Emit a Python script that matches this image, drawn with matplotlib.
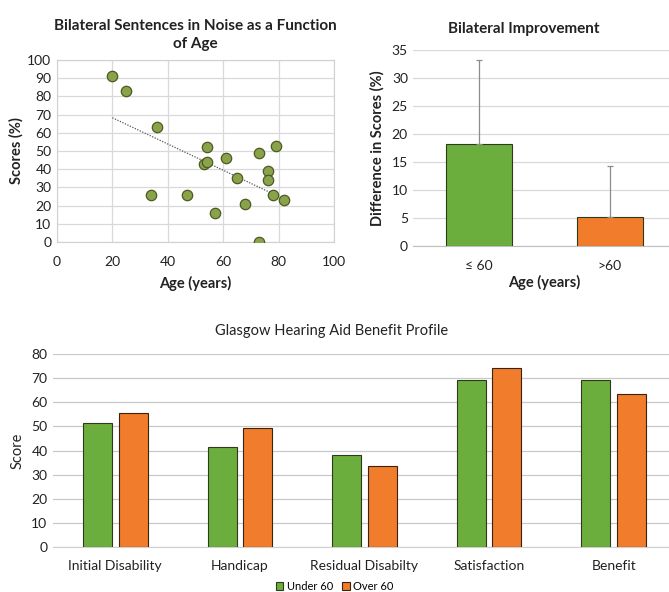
#
# Bilateral hearing results: scatter, improvement bars, GHABP profile
#
import matplotlib
matplotlib.use('Agg')
import matplotlib.pyplot as plt
from matplotlib.patches import Patch
import numpy as np

plt.rcParams['font.family'] = ['Lato', 'DejaVu Sans']

# Scatter data (age vs bilateral score)
ages = [20, 25, 36, 34, 47, 53, 54, 54, 57, 61, 65, 68, 73, 73, 76, 76, 78, 79, 82]
scores = [91, 83, 63, 26, 26, 43, 44, 52, 16, 46, 35, 21, 49, 0, 39, 34, 26, 53, 23]
trend_end = 78  # where the dotted trend line stops showing

# Bilateral improvement by age group
groups = ['\u2264 60', '>60']
improvement = [18.2, 5.1]
improvement_sd = [15.0, 9.1]

# Glasgow profile
ghabp_cats = ['Initial Disability', 'Handicap', 'Residual Disabilty', 'Satisfaction', 'Benefit']
under60 = [51.5, 41.5, 38.2, 69.4, 69.4]
over60 = [55.4, 49.2, 33.6, 74.1, 63.3]

GREEN = '#6cae3e'
ORANGE = '#f07c2c'
GRID = '#c8c8c8'
TXT = '#222222'

fig = plt.figure(figsize=(6.69, 5.92), dpi=100)

# --- scatter ---
ax1 = fig.add_axes([0.0852, 0.5912, 0.4141, 0.3074])
ax1.scatter(ages, scores, s=56, color='#8aa34a', edgecolors='#4b5a22', linewidths=0.9, zorder=3)
k, b = np.polyfit(ages, scores, 1)
tx = np.array([min(ages), trend_end])
ax1.plot(tx, k * tx + b, linestyle=(0, (1, 1.2)), color='#555555', linewidth=0.9, zorder=2)
ax1.set_xlim(0, 100)
ax1.set_ylim(0, 100)
ax1.set_xticks(range(0, 101, 20))
ax1.set_yticks(range(0, 101, 10))
ax1.grid(True, color='#d9d9d9', linewidth=0.9)
ax1.set_axisbelow(True)
for s in ax1.spines.values():
    s.set_color('#d0d0d0')
ax1.tick_params(length=0, labelsize=10, colors=TXT, pad=4)
ax1.tick_params(axis='x', pad=10)
ax1.set_xlabel('Age (years)', fontsize=10.5, fontweight='bold', color=TXT, labelpad=6)
ax1.set_ylabel('Scores (%)', fontsize=10.5, fontweight='bold', color=TXT, labelpad=3)
ax1.set_title('Bilateral Sentences in Noise as a Function\nof Age', fontsize=11,
              fontweight='bold', color=TXT, pad=9, linespacing=1.3)

# --- improvement bars ---
ax2 = fig.add_axes([0.618, 0.5845, 0.3916, 0.3311])
xpos = np.arange(len(groups))
ax2.bar(xpos, improvement, width=0.5, color=[GREEN, ORANGE], edgecolor='#2f3a1c', linewidth=0.8, zorder=3)
ax2.errorbar(xpos, improvement, yerr=[[0, 0], improvement_sd], fmt='none', ecolor='#8c8c8c',
             elinewidth=0.9, capsize=2, capthick=0.9, zorder=4)
ax2.set_xlim(-0.5, 1.5)
ax2.set_ylim(0, 35)
ax2.set_yticks(range(0, 36, 5))
ax2.set_xticks(xpos)
ax2.set_xticklabels(groups)
ax2.grid(axis='y', color='#d9d9d9', linewidth=0.9)
ax2.set_axisbelow(True)
for side in ['top', 'right', 'left']:
    ax2.spines[side].set_visible(False)
ax2.spines['bottom'].set_color('#bfbfbf')
ax2.tick_params(length=0, labelsize=10, colors=TXT, pad=4)
ax2.tick_params(axis='x', pad=10)
ax2.set_xlabel('Age (years)', fontsize=10.5, fontweight='bold', color=TXT, labelpad=2)
ax2.set_ylabel('Difference in Scores (%)', fontsize=10.5, fontweight='bold', color=TXT, labelpad=5)
ax2.set_title('Bilateral Improvement', fontsize=11, fontweight='bold', color=TXT, pad=12,
              x=0.42)

# --- Glasgow profile ---
ax3 = fig.add_axes([0.0792, 0.076, 0.9312, 0.326])
gx = np.arange(len(ghabp_cats))
w = 0.233
off = 0.143
ax3.bar(gx - off, under60, width=w, color=GREEN, edgecolor='#2f3a1c', linewidth=0.8, zorder=3, label='Under 60')
ax3.bar(gx + off, over60, width=w, color=ORANGE, edgecolor='#3a2410', linewidth=0.8, zorder=3, label='Over 60')
ax3.set_xlim(-0.5, len(ghabp_cats) - 0.5)
ax3.set_ylim(0, 80)
ax3.set_yticks(range(0, 81, 10))
ax3.set_xticks(gx)
ax3.set_xticklabels(ghabp_cats)
ax3.grid(axis='y', color=GRID, linewidth=0.9)
ax3.set_axisbelow(True)
for side in ['top', 'right', 'left']:
    ax3.spines[side].set_visible(False)
ax3.spines['bottom'].set_color('#d0d0d0')
ax3.tick_params(length=0, labelsize=10, colors=TXT, pad=4)
ax3.tick_params(axis='x', pad=9)
ax3.set_ylabel('Score', fontsize=10.5, color=TXT, labelpad=5)
ax3.set_title('Glasgow Hearing Aid Benefit Profile', fontsize=10.5, color=TXT, pad=14, x=0.447)
handles = [Patch(facecolor=GREEN, edgecolor='#2f3a1c', linewidth=0.8, label='Under 60'),
           Patch(facecolor=ORANGE, edgecolor='#3a2410', linewidth=0.8, label='Over 60')]
fig.legend(handles=handles, loc='center', bbox_to_anchor=(0.5, 0.009), ncol=2, frameon=False,
           fontsize=8, handlelength=0.7, handleheight=0.7, handletextpad=0.3, columnspacing=0.8)

fig.savefig('out.png', dpi=100)
